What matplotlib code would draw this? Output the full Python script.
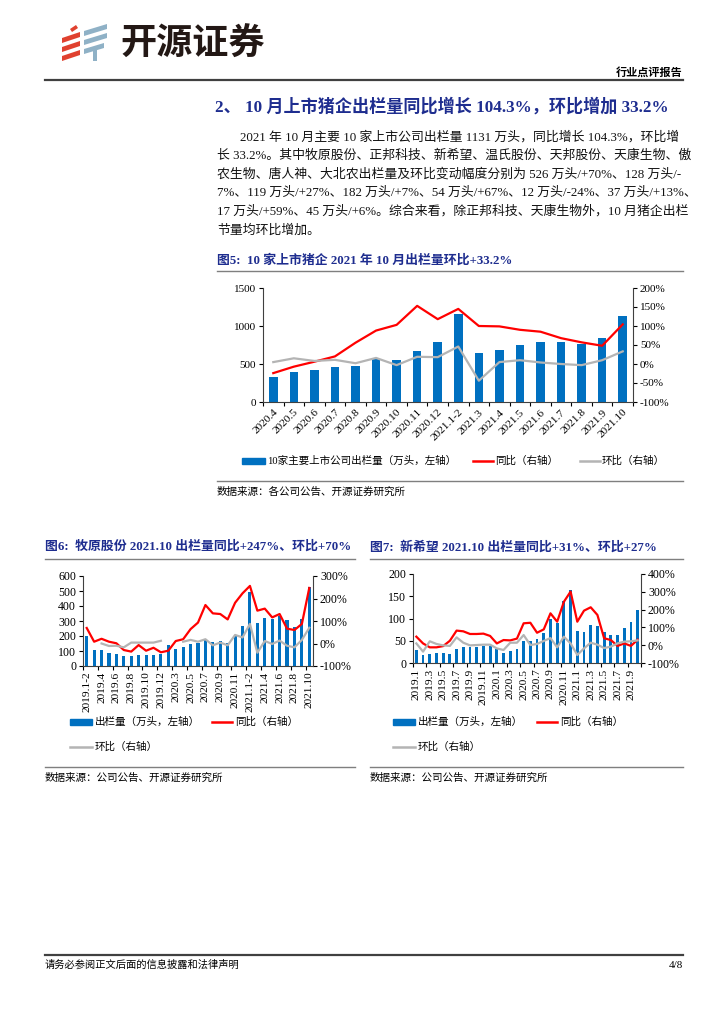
import numpy as np
import matplotlib
matplotlib.use("Agg")
import matplotlib.pyplot as plt
from matplotlib.lines import Line2D
from matplotlib.patches import Polygon, Rectangle
from matplotlib.ticker import FuncFormatter, MultipleLocator

# ---- data: figure 5 (10 listed hog producers) ----
months5 = ["2020.4", "2020.5", "2020.6", "2020.7", "2020.8", "2020.9", "2020.10",
           "2020.11", "2020.12", "2021.1-2", "2021.3", "2021.4", "2021.5", "2021.6",
           "2021.7", "2021.8", "2021.9", "2021.10"]
vol5 = [333, 395, 421, 465, 478, 566, 548, 667, 789, 1158, 645, 680, 750, 789,
        789, 763, 842, 1131]
yoy5 = [-24, -7, 6, 20, 56, 88, 103, 153, 118, 145, 100, 99, 90, 85, 68, 57, 48, 104.3]
mom5 = [5, 15, 8, 11, 2, 16, -3, 19, 18, 46, -44, 5, 10, 4, 0, -3, 10, 33.2]

# ---- data: figure 6 (Muyuan) ----
months6 = ["2019.1-2", "2019.3", "2019.4", "2019.5", "2019.6", "2019.7", "2019.8",
           "2019.9", "2019.10", "2019.11", "2019.12", "2020.1-2", "2020.3", "2020.4",
           "2020.5", "2020.6", "2020.7", "2020.8", "2020.9", "2020.10", "2020.11",
           "2020.12", "2021.1-2", "2021.3", "2021.4", "2021.5", "2021.6", "2021.7",
           "2021.8", "2021.9", "2021.10"]
vol6 = [200, 107, 107, 89, 78, 67, 69, 71, 73, 73, 82, 140, 116, 124, 144, 156,
        173, 162, 167, 151, 200, 267, 493, 287, 318, 313, 336, 304, 258, 311, 526]
yoy6 = [69, 8, 21, 8, 1, -29, -36, -7, -32, -19, -39, -32, 11, 19, 64, 93, 171,
        134, 131, 107, 181, 223, 256, 146, 155, 116, 131, 66, 60, 87, 247]
mom6 = [np.nan, np.nan, 0, -11, -10, -17, 4, 4, 4, 4, 12, np.nan, np.nan, 8, 16,
        8, 19, -8, 4, -8, 38, 27, 87, -41, 11, -2, 13, -10, -17, 16, 70]

# ---- data: figure 7 (New Hope) ----
months7 = ["2019.1", "2019.2", "2019.3", "2019.4", "2019.5", "2019.6", "2019.7",
           "2019.8", "2019.9", "2019.10", "2019.11", "2019.12", "2020.1", "2020.2",
           "2020.3", "2020.4", "2020.5", "2020.6", "2020.7", "2020.8", "2020.9",
           "2020.10", "2020.11", "2020.12", "2021.1", "2021.2", "2021.3", "2021.4",
           "2021.5", "2021.6", "2021.7", "2021.8", "2021.9", "2021.10"]
vol7 = [29, 17, 20, 22, 22, 21, 31, 35, 35, 37, 39, 38, 31, 23, 27, 31, 49, 50,
        55, 67, 99, 91, 139, 165, 73, 70, 85, 83, 69, 64, 63, 78, 92, 119]
yoy7 = [48, 10, -12, -12, -5, 25, 82, 78, 63, 63, 65, 52, 10, 29, 27, 37, 123,
        126, 70, 89, 179, 132, 244, 301, 132, 194, 213, 170, 39, 29, -4, 10, -4, 31]
mom7 = [10, -36, 22, 7, -1, -4, 44, 14, -1, 1, 3, 3, -18, -27, 14, 14, 57, 1, 7,
        24, 40, -12, 48, 10, -55, -18, 14, 3, -16, -8, 10, 20, 22, 27]

W, H = 724, 1024
BLUE = "#0070C0"
RED = "#FF0000"
GRAY = "#B4B4B4"
NAVY = "#1E2D8F"
MIX = ["Liberation Serif", "Noto Sans CJK SC"]
CJK = ["Noto Sans CJK SC", "DejaVu Sans"]

plt.rcParams["font.family"] = MIX

fig = plt.figure(figsize=(W / 100, H / 100), dpi=100)


def px(x, y):
    # page pixel coordinates (origin top-left) -> figure fraction
    return x / W, 1 - y / H


def put_text(x, y, s, size, **kw):
    fx, fy = px(x, y)
    fig.text(fx, fy, s, fontsize=size, transform=fig.transFigure,
             va=kw.pop("va", "center"), **kw)


def hline(x0, x1, y, color="#7F7F7F", lw=1.0):
    fy = 1 - y / H
    fig.add_artist(Line2D([x0 / W, x1 / W], [fy, fy], color=color, lw=lw,
                          transform=fig.transFigure))


def poly(pts, color):
    fig.add_artist(Polygon([px(x, y) for x, y in pts], closed=True, lw=0,
                           color=color, transform=fig.transFigure))


# ---- page header ----
red_logo, blue_logo = "#E0412F", "#8FB1C6"
poly([(70, 29), (76, 25), (78, 28), (72, 32)], red_logo)
poly([(62, 38), (80, 32), (80, 37), (62, 43)], red_logo)
poly([(62, 47), (80, 41), (80, 46), (62, 52)], red_logo)
poly([(62, 56), (80, 50), (80, 55), (62, 61)], red_logo)
poly([(84, 31), (107, 24), (107, 29), (84, 36)], blue_logo)
poly([(84, 40), (107, 33), (107, 38), (84, 45)], blue_logo)
poly([(84, 49), (104, 43), (104, 48), (84, 54)], blue_logo)
poly([(93, 50), (97, 49), (97, 61), (93, 61)], blue_logo)
put_text(120, 44, "开源证券", 26, family=CJK, weight="bold", color="#231815")
put_text(683, 72, "行业点评报告", 8, family=CJK, weight="bold", ha="right")
hline(45, 683, 80, color="#404040", lw=1.6)

# ---- section heading and paragraph ----
put_text(215, 107, "2、 10 月上市猪企出栏量同比增长 104.3%，环比增加 33.2%", 12.3,
         weight="bold", color=NAVY)
para = [
    (240, "2021 年 10 月主要 10 家上市公司出栏量 1131 万头，同比增长 104.3%，环比增"),
    (217, "长 33.2%。其中牧原股份、正邦科技、新希望、温氏股份、天邦股份、天康生物、傲"),
    (217, "农生物、唐人神、大北农出栏量及环比变动幅度分别为 526 万头/+70%、128 万头/-"),
    (217, "7%、119 万头/+27%、182 万头/+7%、54 万头/+67%、12 万头/-24%、37 万头/+13%、"),
    (217, "17 万头/+59%、45 万头/+6%。综合来看，除正邦科技、天康生物外，10 月猪企出栏"),
    (217, "节量均环比增加。"),
]
for i, (x0, line) in enumerate(para):
    put_text(x0, 137 + i * 18.7, line, 9.25, color="#111111")


def pct(v, pos):
    return f"{v:.0f}%"


def combo(rect, cats, vol, yoy, mom, ylim, rlim, lstep, rstep, rot, label_every,
          width, ysize, xsize):
    ax = fig.add_axes(rect)
    x = np.arange(len(cats))
    ax.bar(x, vol, width=width, color=BLUE, zorder=2)
    ax.set_xlim(-0.5, len(cats) - 0.5)
    ax.set_ylim(*ylim)
    ax.yaxis.set_major_locator(MultipleLocator(lstep))
    ax2 = ax.twinx()
    ax2.plot(x, yoy, color=RED, lw=1.6, solid_joinstyle="round")
    ax2.plot(x, mom, color=GRAY, lw=1.6, solid_joinstyle="round")
    ax2.set_ylim(*rlim)
    ax2.yaxis.set_major_locator(MultipleLocator(rstep))
    ax2.yaxis.set_major_formatter(FuncFormatter(pct))
    for a in (ax, ax2):
        a.spines["top"].set_visible(False)
        for s in a.spines.values():
            s.set_color("#404040")
            s.set_linewidth(0.8)
    ax.spines["right"].set_visible(False)
    ax2.spines["left"].set_visible(False)
    ax2.spines["bottom"].set_visible(False)
    ax.tick_params(axis="y", direction="out", length=3, width=0.8,
                   labelsize=ysize, pad=2)
    ax2.tick_params(axis="y", direction="out", length=3, width=0.8,
                    labelsize=ysize, pad=2)
    ticks = x[::label_every]
    ax.set_xticks(ticks)
    if rot == 45:
        ax.set_xticklabels([cats[i] for i in ticks], rotation=45, ha="right",
                           rotation_mode="anchor", fontsize=xsize)
    else:
        ax.set_xticklabels([cats[i] for i in ticks], rotation=90, ha="center",
                           va="top", fontsize=xsize)
    ax.set_xticks(np.arange(-0.5, len(cats), label_every), minor=True)
    ax.tick_params(axis="x", which="major", length=0, pad=4)
    ax.tick_params(axis="x", which="minor", length=3, width=0.8, direction="out")
    return ax, ax2


def legend_bar(x0, x1, y):
    fx0, fy = px(x0, y + 3)
    fig.add_artist(Rectangle((fx0, fy), (x1 - x0) / W, 6 / H, color=BLUE,
                             transform=fig.transFigure))


def legend_line(x0, x1, y, color):
    hline(x0, x1, y, color=color, lw=1.8)


# ---- figure 5 ----
put_text(217, 260, "图5:  10 家上市猪企 2021 年 10 月出栏量环比+33.2%", 9.3,
         weight="bold", color=NAVY)
hline(217, 683, 271)
combo([263 / W, 1 - 402 / H, 370 / W, 114 / H], months5, vol5, yoy5, mom5,
      (0, 1500), (-100, 200), 500, 50, 45, 1, 0.42, 8, 8.2)
legend_bar(242, 265, 461)
put_text(267, 461, "10家主要上市公司出栏量（万头，左轴）", 7.6)
legend_line(473, 493, 461, RED)
put_text(495, 461, "同比（右轴）", 7.6, family=CJK)
legend_line(580, 600, 461, GRAY)
put_text(602, 461, "环比（右轴）", 7.6, family=CJK)
hline(217, 683, 481)
put_text(217, 492, "数据来源：各公司公告、开源证券研究所", 7.6, family=CJK)

# ---- figure 6 ----
put_text(45, 547, "图6:  牧原股份 2021.10 出栏量同比+247%、环比+70%", 9.3,
         weight="bold", color=NAVY)
hline(45, 355, 559)
combo([83 / W, 1 - 666 / H, 230 / W, 90 / H], months6, vol6, yoy6, mom6,
      (0, 600), (-100, 300), 100, 100, 90, 2, 0.42, 8.6, 8.2)
legend_bar(70, 92, 722)
put_text(95, 722, "出栏量（万头，左轴）", 7.6, family=CJK)
legend_line(212, 232, 722, RED)
put_text(235, 722, "同比（右轴）", 7.6, family=CJK)
legend_line(70, 92, 747, GRAY)
put_text(95, 747, "环比（右轴）", 7.6, family=CJK)
hline(45, 355, 767)
put_text(45, 778, "数据来源：公司公告、开源证券研究所", 7.6, family=CJK)

# ---- figure 7 ----
put_text(370, 547, "图7:  新希望 2021.10 出栏量同比+31%、环比+27%", 9.3,
         weight="bold", color=NAVY)
hline(370, 683, 559)
combo([413 / W, 1 - 663 / H, 228 / W, 89 / H], months7, vol7, yoy7, mom7,
      (0, 200), (-100, 400), 50, 100, 90, 2, 0.42, 8.6, 8.2)
legend_bar(393, 415, 722)
put_text(418, 722, "出栏量（万头，左轴）", 7.6, family=CJK)
legend_line(537, 557, 722, RED)
put_text(560, 722, "同比（右轴）", 7.6, family=CJK)
legend_line(393, 415, 747, GRAY)
put_text(418, 747, "环比（右轴）", 7.6, family=CJK)
hline(370, 683, 767)
put_text(370, 778, "数据来源：公司公告、开源证券研究所", 7.6, family=CJK)

# ---- footer ----
hline(45, 683, 955, color="#404040", lw=1.6)
put_text(45, 965, "请务必参阅正文后面的信息披露和法律声明", 7.4, family=CJK)
put_text(683, 965, "4/8", 8, ha="right")

fig.savefig("out.png", dpi=100, facecolor="white")
